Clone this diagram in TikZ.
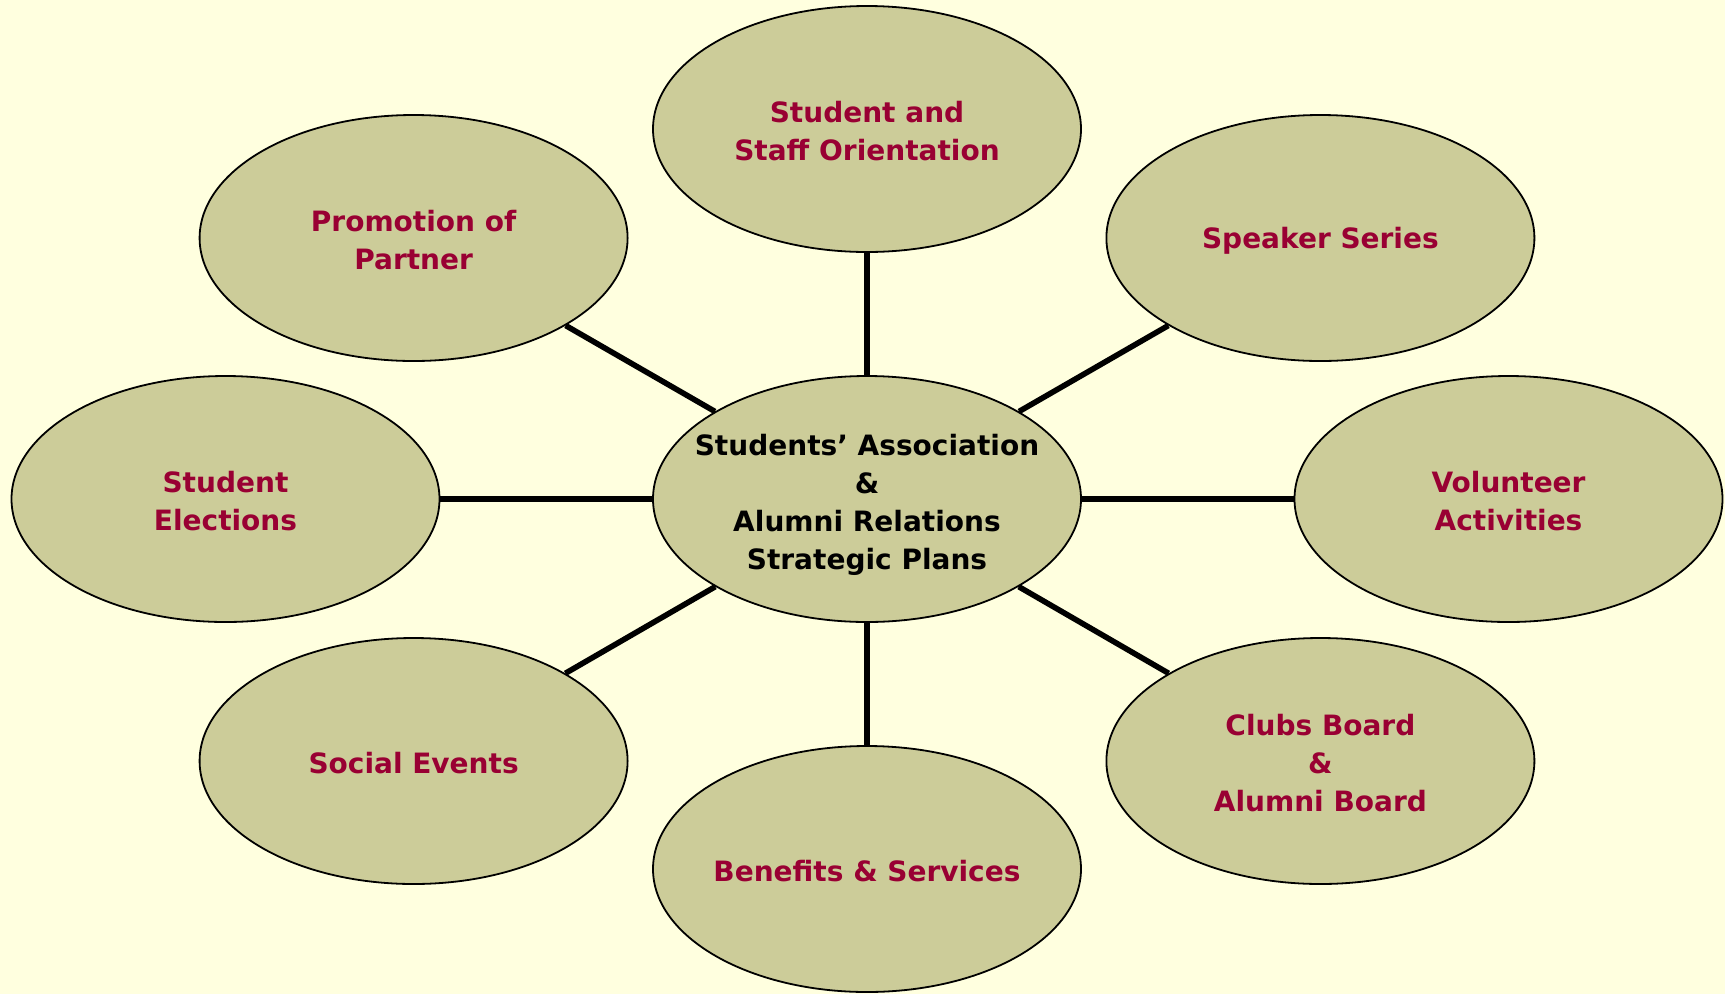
\documentclass[tikz,border=0pt]{standalone}
\usepackage{fontspec}
\setmainfont{DejaVu Sans}
\usetikzlibrary{shapes.geometric}
\definecolor{bgyellow}{HTML}{FFFFDF}
\definecolor{olivefill}{HTML}{CCCC99}
\definecolor{crimsontext}{HTML}{990033}
\begin{document}
\begin{tikzpicture}[x=1pt,y=-1pt,
  bubble/.style={ellipse, draw=black, line width=1.8pt, fill=olivefill,
    minimum width=428pt, minimum height=246pt, inner xsep=-80pt, inner ysep=-20pt},
  hub/.style={bubble},
  spoke/.style={line width=5.6pt, black},
  words/.style={align=center, font=\fontsize{28}{38}\selectfont\bfseries, text=crimsontext, inner sep=0pt}]
  \fill[bgyellow] (0,0) rectangle (1725,994);
  \useasboundingbox (0,0) rectangle (1725,994);

  % central plan and the eight activity bubbles around it
  \node[hub] (hub) at (867,499) {};
  \node[bubble] (orient) at (867,129) {};
  \node[bubble] (promo) at (413.6,238) {};
  \node[bubble] (speaker) at (1320.4,238) {};
  \node[bubble] (elect) at (225.5,499) {};
  \node[bubble] (volunteer) at (1508.5,499) {};
  \node[bubble] (social) at (413.6,761) {};
  \node[bubble] (clubs) at (1320.4,761) {};
  \node[bubble] (benefits) at (867,869) {};

  % labels, set a little below each bubble's centre
  \node[words, text=black] (hubtext) at ([yshift=-5.5pt]hub.center) {Students’ Association\\\&\\Alumni Relations\\Strategic Plans};
  \node[words] (orienttext) at ([yshift=-2.5pt]orient.center) {Student and\\Staff Orientation};
  \node[words] (promotext) at ([yshift=-2.5pt]promo.center) {Promotion of\\Partner};
  \node[words] (speakertext) at ([yshift=-2.5pt]speaker.center) {Speaker Series};
  \node[words] (electtext) at ([yshift=-2.5pt]elect.center) {Student\\Elections};
  \node[words] (volunteertext) at ([yshift=-2.5pt]volunteer.center) {Volunteer\\Activities};
  \node[words] (socialtext) at ([yshift=-2.5pt]social.center) {Social Events};
  \node[words] (clubstext) at ([yshift=-2.5pt]clubs.center) {Clubs Board\\\&\\Alumni Board};
  \node[words] (benefitstext) at ([yshift=-2.5pt]benefits.center) {Benefits \& Services};

  % spokes run border to border
  \foreach \n in {orient,promo,speaker,elect,volunteer,social,clubs,benefits}
    \draw[spoke] (hub) -- (\n);
\end{tikzpicture}
\end{document}
